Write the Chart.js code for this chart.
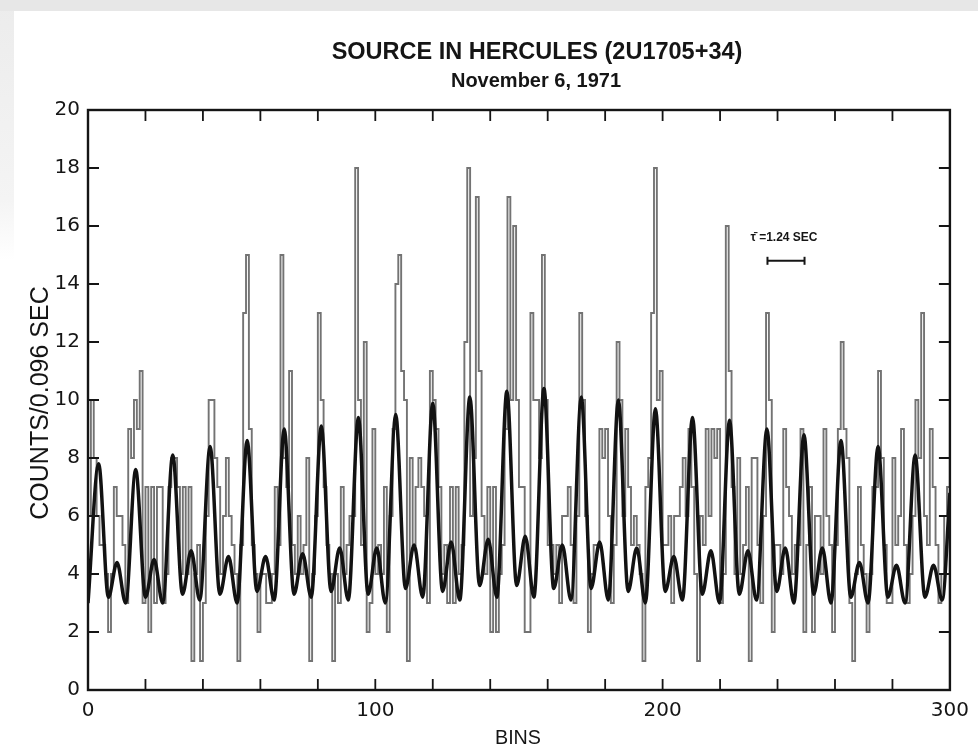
<!DOCTYPE html>
<html>
<head>
<meta charset="utf-8">
<title>Source in Hercules (2U1705+34)</title>
<script src="https://cdn.jsdelivr.net/npm/chart.js@4.4.1/dist/chart.umd.min.js"></script>
<style>
  html, body { margin: 0; padding: 0; background: #fff; }
  #wrap {
    width: 978px; height: 747px;
    background:
      linear-gradient(#e7e7e7, #e7e7e7) 0 0 / 978px 11px no-repeat,
      linear-gradient(to bottom, #ececec 0, #f4f4f4 200px, #fff 260px) 0 0 / 14px 260px no-repeat,
      #fff;
  }
</style>
</head>
<body>
<div id="wrap"><canvas id="hercChart" width="978" height="747"></canvas></div>
<script>
// Counts per 0.096 s bin (bins 0..299)
const counts = [
    6, 10, 8, 6, 5, 5, 4, 2, 4, 7,
    6, 6, 5, 3, 9, 8, 10, 9, 11, 3,
    7, 2, 7, 3, 7, 7, 3, 4, 7, 8,
    8, 7, 4, 7, 4, 7, 1, 4, 5, 1,
    3, 6, 10, 10, 8, 7, 4, 6, 8, 6,
    5, 4, 1, 5, 13, 15, 9, 5, 4, 2,
    4, 4, 3, 3, 4, 7, 5, 15, 8, 7,
    11, 5, 4, 6, 4, 5, 8, 1, 4, 6,
    13, 10, 7, 5, 4, 1, 4, 3, 7, 4,
    5, 6, 6, 18, 10, 5, 12, 2, 3, 9,
    4, 5, 4, 7, 2, 6, 9, 14, 15, 11,
    10, 1, 8, 5, 7, 8, 7, 6, 3, 11,
    10, 9, 7, 4, 5, 3, 7, 3, 7, 4,
    5, 12, 18, 6, 8, 17, 11, 6, 4, 7,
    2, 7, 2, 4, 5, 9, 17, 10, 16, 10,
    7, 7, 2, 2, 13, 10, 10, 8, 15, 10,
    5, 5, 4, 5, 3, 6, 6, 7, 5, 3,
    6, 13, 10, 6, 2, 4, 5, 5, 9, 8,
    9, 6, 3, 5, 12, 10, 6, 9, 7, 5,
    6, 5, 4, 1, 7, 8, 13, 18, 10, 11,
    5, 5, 6, 3, 6, 6, 7, 8, 6, 9,
    7, 4, 1, 6, 5, 9, 6, 9, 8, 9,
    3, 4, 16, 11, 7, 4, 8, 4, 5, 7,
    1, 8, 8, 5, 3, 6, 13, 10, 2, 5,
    5, 4, 9, 7, 6, 4, 5, 5, 9, 2,
    5, 7, 2, 6, 6, 4, 9, 6, 5, 2,
    5, 9, 12, 9, 8, 3, 1, 4, 7, 5,
    4, 2, 4, 7, 7, 11, 8, 5, 3, 3,
    8, 5, 6, 9, 5, 3, 4, 6, 10, 8,
    13, 6, 5, 9, 7, 5, 3, 4, 6, 7
];

// Smooth pulse-profile curve: key points (peak, dip, small bump, dip)
const fitBins = [
    0,
    3.7, 7.1, 10.1, 13.1,
    16.6, 20.0, 23.0, 26.0,
    29.5, 32.9, 35.9, 38.9,
    42.5, 45.9, 48.9, 51.9,
    55.4, 58.8, 61.8, 64.8,
    68.3, 71.7, 74.7, 77.7,
    81.2, 84.6, 87.6, 90.6,
    94.1, 97.5, 100.5, 103.5,
    107.1, 110.5, 113.5, 116.5,
    120.0, 123.4, 126.4, 129.4,
    132.9, 136.3, 139.3, 142.3,
    145.8, 149.2, 152.2, 155.2,
    158.7, 162.1, 165.1, 168.1,
    171.7, 175.1, 178.1, 181.1,
    184.6, 188.0, 191.0, 194.0,
    197.5, 200.9, 203.9, 206.9,
    210.4, 213.8, 216.8, 219.8,
    223.3, 226.7, 229.7, 232.7,
    236.3, 239.7, 242.7, 245.7,
    249.2, 252.6, 255.6, 258.6,
    262.1, 265.5, 268.5, 271.5,
    275.0, 278.4, 281.4, 284.4,
    287.9, 291.3, 294.3, 297.3,
    300
];
const fitCounts = [
    3.0,
    7.8, 3.2, 4.4, 3.0,
    7.6, 3.2, 4.5, 3.0,
    8.1, 3.3, 4.8, 3.1,
    8.4, 3.3, 4.6, 3.0,
    8.6, 3.4, 4.6, 3.1,
    9.0, 3.3, 4.7, 3.2,
    9.1, 3.4, 4.9, 3.1,
    9.4, 3.3, 4.9, 3.0,
    9.5, 3.5, 5.0, 3.2,
    9.9, 3.4, 5.1, 3.1,
    10.1, 3.6, 5.2, 3.2,
    10.3, 3.6, 5.3, 3.2,
    10.4, 3.5, 5.0, 3.1,
    10.1, 3.5, 5.1, 3.1,
    10.0, 3.4, 4.9, 3.0,
    9.7, 3.4, 4.6, 3.1,
    9.4, 3.3, 4.8, 3.0,
    9.3, 3.3, 4.8, 3.1,
    9.0, 3.4, 4.9, 3.0,
    8.8, 3.3, 4.9, 3.0,
    8.6, 3.2, 4.4, 3.0,
    8.4, 3.2, 4.3, 3.0,
    8.1, 3.2, 4.3, 3.1,
    6.8
];

// Period marker (1.24 s = ~12.9 bins)
const periodBins = [236.5, 249.4];
const periodLevel = 14.8;

const xTickValues = [0, 100, 200, 300];
const xMinorStep = 20;
const yTickStep = 2;

// Build the step table: value of bin i holds from i to i+1
const histPoints = counts.map((c, i) => ({ x: i, y: c }));
histPoints.push({ x: counts.length, y: counts[counts.length - 1] });

const fitPoints = fitBins.map((b, i) => ({ x: b, y: fitCounts[i] }));
const periodPoints = periodBins.map(b => ({ x: b, y: periodLevel }));

// Frame, inward ticks and figure lettering
const figureText = {
    id: 'figureText',
    afterDraw(chart) {
        const { ctx, chartArea: a, scales: { x, y } } = chart;
        ctx.save();
        ctx.strokeStyle = '#151515';
        ctx.lineWidth = 2.4;
        ctx.strokeRect(a.left, a.top, a.right - a.left, a.bottom - a.top);

        ctx.lineWidth = 1.8;
        ctx.beginPath();
        for (let v = xMinorStep; v < x.max; v += xMinorStep) {
            const px = x.getPixelForValue(v);
            ctx.moveTo(px, a.bottom); ctx.lineTo(px, a.bottom - 11);
            ctx.moveTo(px, a.top); ctx.lineTo(px, a.top + 11);
        }
        for (let v = yTickStep; v < y.max; v += yTickStep) {
            const py = y.getPixelForValue(v);
            ctx.moveTo(a.left, py); ctx.lineTo(a.left + 11, py);
            ctx.moveTo(a.right, py); ctx.lineTo(a.right - 11, py);
        }
        ctx.stroke();

        ctx.fillStyle = '#151515';
        ctx.textAlign = 'center';
        ctx.textBaseline = 'alphabetic';
        ctx.font = 'bold 23.5px "Liberation Sans", Arial, sans-serif';
        ctx.fillText('SOURCE IN HERCULES (2U1705+34)', 537, 59, 416);
        ctx.font = 'bold 20px "Liberation Sans", Arial, sans-serif';
        ctx.fillText('November 6, 1971', 536, 87, 172);

        ctx.font = '21px "Liberation Sans", Arial, sans-serif';
        ctx.fillText('BINS', 518, 744, 46);

        ctx.save();
        ctx.font = '25px "Liberation Sans", Arial, sans-serif';
        ctx.translate(48, 403);
        ctx.rotate(-Math.PI / 2);
        ctx.fillText('COUNTS/0.096 SEC', 0, 0, 245);
        ctx.restore();

        ctx.font = 'bold 12px "Liberation Sans", Arial, sans-serif';
        ctx.fillText('\u03C4\u0304 =1.24 SEC', 784, 241, 72);
        ctx.restore();
    }
};

const ctx = document.getElementById('hercChart').getContext('2d');

new Chart(ctx, {
    type: 'line',
    data: {
        datasets: [
            {
                label: 'Fit',
                data: fitPoints,
                borderColor: '#121212',
                borderWidth: 3.5,
                pointRadius: 0,
                cubicInterpolationMode: 'monotone',
                order: 0
            },
            {
                label: 'Counts',
                data: histPoints,
                borderColor: 'rgba(80, 80, 80, 0.8)',
                borderWidth: 1.9,
                pointRadius: 0,
                stepped: 'before',
                order: 1
            },
            {
                label: 'Period',
                data: periodPoints,
                borderColor: '#151515',
                borderWidth: 2,
                pointStyle: 'line',
                rotation: 90,
                pointRadius: 4,
                pointBorderWidth: 2,
                order: 0
            }
        ]
    },
    options: {
        responsive: false,
        devicePixelRatio: 1,
        animation: false,
        layout: {
            padding: { top: 110, right: 26, left: 0, bottom: 0 }
        },
        plugins: {
            legend: { display: false },
            tooltip: { enabled: false },
            title: { display: false }
        },
        scales: {
            x: {
                type: 'linear',
                min: 0,
                max: 300,
                afterBuildTicks: scale => {
                    scale.ticks = xTickValues.map(v => ({ value: v }));
                },
                ticks: {
                    color: '#151515',
                    padding: 9,
                    font: { family: '"DejaVu Sans", sans-serif', size: 20 }
                },
                grid: { drawOnChartArea: false, drawTicks: false },
                border: { display: true, color: '#151515', width: 2 },
                afterFit: scale => { scale.height = 57; }
            },
            y: {
                min: 0,
                max: 20,
                ticks: {
                    stepSize: yTickStep,
                    color: '#151515',
                    padding: 8,
                    font: { family: '"DejaVu Sans", sans-serif', size: 20 }
                },
                grid: { drawOnChartArea: false, drawTicks: false },
                border: { display: true, color: '#151515', width: 2 },
                afterFit: scale => { scale.width = 88; }
            }
        }
    },
    plugins: [figureText]
});
</script>
</body>
</html>
